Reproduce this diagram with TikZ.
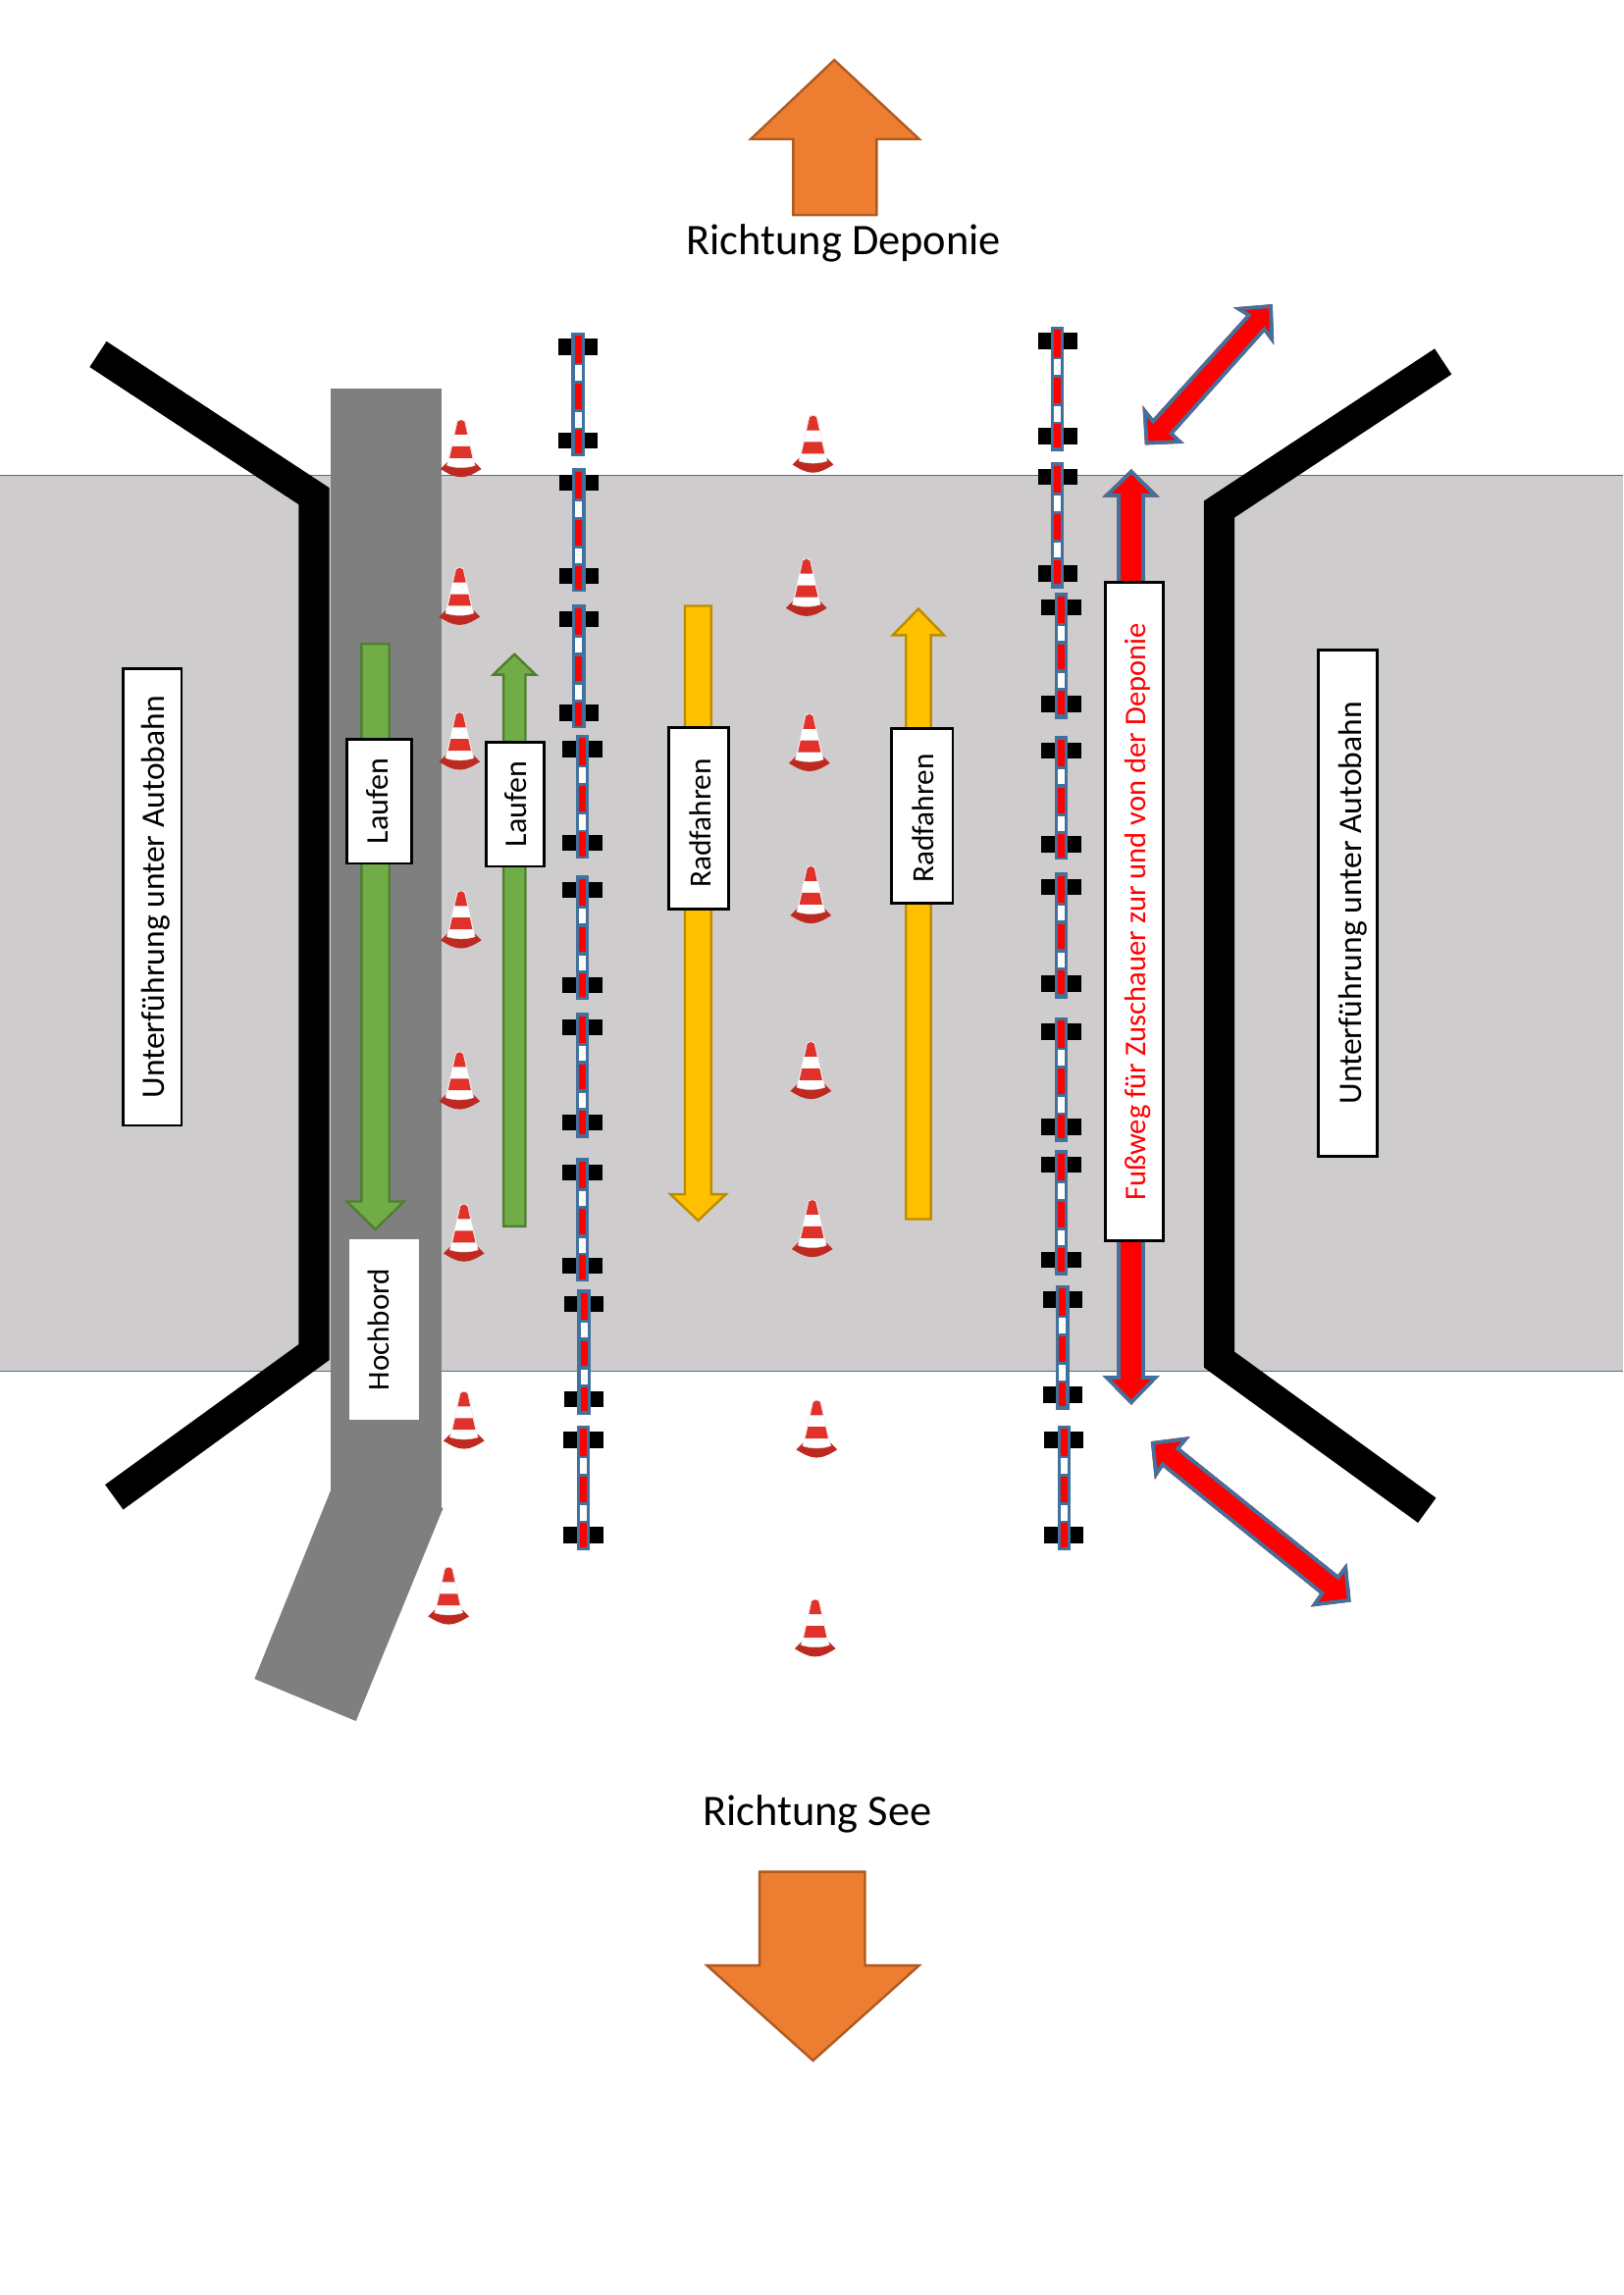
\documentclass[tikz,border=0pt]{standalone}
\usepackage{fontspec}
\setmainfont{Carlito}
\definecolor{roadbg}{HTML}{CFCCCD}
\definecolor{curb}{HTML}{7F7F7F}
\definecolor{edgeblue}{HTML}{41719C}
\definecolor{grn}{HTML}{70AD47}
\definecolor{grnd}{HTML}{507E32}
\definecolor{yel}{HTML}{FFC000}
\definecolor{yeld}{HTML}{BC8C00}
\definecolor{org}{HTML}{ED7D31}
\definecolor{orgd}{HTML}{AE5A21}
\definecolor{conered}{HTML}{E0312A}
\definecolor{conedark}{HTML}{BE2A22}
\tikzset{
  wall/.style={line width=21pt,black,line join=miter,line cap=butt},
  label box/.style={draw=black,line width=1.9pt,fill=white,rotate=90,font=\fontsize{21.5}{24}\selectfont,inner sep=0pt,anchor=center},
  green arrow/.style={fill=grn,draw=grnd,line width=1.6pt,line join=miter},
  yellow arrow/.style={fill=yel,draw=yeld,line width=1.6pt,line join=miter},
  orange arrow/.style={fill=org,draw=orgd,line width=1.6pt,line join=miter},
  caption/.style={font=\fontsize{29.8}{32}\selectfont}
}
\newcommand\lab[2]{\raisebox{-#1pt}[0pt][0pt]{#2}}
\newcommand\redpoly[1]{%
  \begin{scope}
    \clip #1;
    \draw[fill=red,draw=edgeblue,line width=5pt,line join=miter] #1;
  \end{scope}}
\newcommand\fencesec[3]{% x, foot1 y, foot2 y
  \fill[black] (#1-13.5,#2-5.5) rectangle (#1+13.5,#2+5.5);
  \fill[black] (#1-13.5,#3-5.5) rectangle (#1+13.5,#3+5.5);
  \fill[edgeblue] (#1-4.5,#2-10) rectangle (#1+4.5,#3+10.5);
  \fill[white] (#1-2.3,#2-10+22.6) rectangle (#1+2.3,#2-10+33);
  \fill[white] (#1-2.3,#2-10+54.8) rectangle (#1+2.3,#2-10+65);
  \fill[red] (#1-2.3,#2-10+2.5) rectangle (#1+2.3,#2-10+20.8);
  \fill[red] (#1-2.3,#2-10+35.3) rectangle (#1+2.3,#2-10+52.5);
  \fill[red] (#1-2.3,#2-10+66.8) rectangle (#1+2.3,#2-10+83);
}
\newcommand\conemark[2]{% centre x, top y
  \begin{scope}[shift={(#1,#2)}]
    \fill[conedark] (-14,33.5) -- (-9.5,29) -- (9.5,29) -- (14,33.5) .. controls (9,36.5) and (5,39) .. (0,39) .. controls (-5,39) and (-9,36.5) .. (-14,33.5) -- cycle;
    \draw[fill=white,draw=black!12,line width=0.3pt] (-2.5,0) -- (2.5,0) -- (9.6,31) .. controls (4,33) and (-4,33) .. (-9.6,31) -- cycle;
    \fill[conered] (-2.3,1) .. controls (-1,-0.3) and (1,-0.3) .. (2.3,1) -- (4.3,10) -- (-4.3,10) -- cycle;
    \fill[conered] (-6,18) -- (6,18) -- (7.8,26) -- (-7.8,26) -- cycle;
  \end{scope}
}
\begin{document}
\begin{tikzpicture}[x=1pt,y=-1pt]
\useasboundingbox (0,0) rectangle (1109,1568.2);
\fill[white] (0,0) rectangle (1109,1568.2);
% underpass band
\fill[roadbg] (0,325) rectangle (1109,937);
\draw[edgeblue,line width=0.6pt] (0,325) -- (1109,325);
\draw[edgeblue,line width=0.6pt] (0,937) -- (1109,937);
% curb
\fill[curb] (226,265.5) rectangle (301.7,1030.4);
\fill[curb] (225.7,1019) -- (302.8,1030.4) -- (243.2,1176) -- (173.9,1147.2) -- cycle;
% walls
\draw[wall] (67,242) -- (214.5,339) -- (214.5,924) -- (78,1023);
\draw[wall] (986,247) -- (833,348) -- (833,929) -- (975,1032);
% cones
\conemark{315}{287}\conemark{314}{388}\conemark{314}{487}\conemark{315}{609}
\conemark{314}{719}\conemark{317}{823}\conemark{317}{951}\conemark{306.5}{1071}
\conemark{555.5}{284}\conemark{551}{382}\conemark{553}{488}\conemark{554}{592}
\conemark{554}{712}\conemark{555}{820}\conemark{558}{957}\conemark{557}{1093}
% fences
\fencesec{395}{237}{301}\fencesec{395.5}{330}{393.5}\fencesec{395.5}{423}{487}
\fencesec{398}{512}{576}\fencesec{398}{608}{673}\fencesec{398}{702}{767}
\fencesec{398}{801}{865}\fencesec{399}{891}{956}\fencesec{398.5}{984}{1049}
\fencesec{722.5}{233}{298}\fencesec{722.5}{326}{392}\fencesec{725}{415}{481}
\fencesec{725}{513}{577}\fencesec{725}{606}{672}\fencesec{725}{705}{770}
\fencesec{725}{796}{861}\fencesec{726}{888}{953}\fencesec{727}{984}{1049}
% lane arrows
\draw[green arrow] (247,440) -- (266,440) -- (266,821) -- (276,821) -- (256.5,840) -- (237,821) -- (247,821) -- cycle;
\draw[green arrow] (344,838) -- (359,838) -- (359,461) -- (366,461) -- (351.5,447) -- (337,461) -- (344,461) -- cycle;
\draw[yellow arrow] (468,414) -- (486,414) -- (486,816) -- (496,816) -- (477,834) -- (458,816) -- (468,816) -- cycle;
\draw[yellow arrow] (619,833) -- (636,833) -- (636,434) -- (645,434) -- (627.5,416) -- (610,434) -- (619,434) -- cycle;
% red double arrows
\redpoly{(773,320.5) -- (792.3,339.7) -- (782.3,339.7) -- (782.3,940) -- (792.3,940) -- (773,960) -- (753.2,940) -- (763.3,940) -- (763.3,339.7) -- (753.2,339.7) -- cycle}
\redpoly{(782.3,304) -- (809.1,302.9) -- (801.9,296.2) -- (863.8,226.8) -- (870.5,235.8) -- (869.4,207.9) -- (842.6,210.1) -- (851.5,215.7) -- (787.9,286.1) -- (780.7,277.1) -- cycle}
\redpoly{(786.3,985) -- (813.1,981.6) -- (806.4,989.7) -- (914.1,1076.2) -- (920.2,1067.9) -- (923.1,1094.5) -- (895.6,1097.9) -- (901.8,1088.9) -- (794.6,1002.4) -- (789,1010.9) -- cycle}
% labels
\node[label box,minimum width=312pt,minimum height=40pt] (ul) at (104,613) {\lab{8.5}{\fontsize{22.5}{24}\selectfont Unterführung unter Autobahn}};
\node[label box,minimum width=346pt,minimum height=40pt] (ur) at (921,617) {\lab{9}{\fontsize{22.5}{24}\selectfont Unterführung unter Autobahn}};
\node[label box,minimum width=85pt,minimum height=44pt] (l1) at (259,547.5) {\lab{6}{Laufen}};
\node[label box,minimum width=85pt,minimum height=40pt] (l2) at (352,549.5) {\lab{7.5}{Laufen}};
\node[label box,minimum width=124pt,minimum height=41pt] (r1) at (477.5,559) {\lab{8}{\hspace{-7pt}\fontsize{21}{24}\selectfont Radfahren}};
\node[label box,minimum width=119pt,minimum height=42pt] (r2) at (630,557.5) {\lab{8}{\hspace{-3pt}\fontsize{21}{24}\selectfont Radfahren}};
\node[label box,minimum width=450pt,minimum height=40pt,text=red,font=\fontsize{20.5}{22}\selectfont] (fw) at (775,623) {\lab{8}{Fußweg für Zuschauer zur und von der Deponie}};
\node[label box,draw=none,minimum width=123pt,minimum height=47pt,font=\fontsize{20.8}{22}\selectfont] (hb) at (262.5,908.5) {\lab{3.5}{Hochbord}};
% direction arrows
\draw[orange arrow] (570,41) -- (628,95) -- (599,95) -- (599,147) -- (542,147) -- (542,95) -- (513,95) -- cycle;
\draw[orange arrow] (519,1279) -- (591,1279) -- (591,1343) -- (628,1343) -- (555.5,1408) -- (483,1343) -- (519,1343) -- cycle;
\node[caption] (rd) at (576.5,166.5) {Richtung Deponie};
\node[caption] (rs) at (558.5,1239.5) {Richtung See};
\end{tikzpicture}
\end{document}
